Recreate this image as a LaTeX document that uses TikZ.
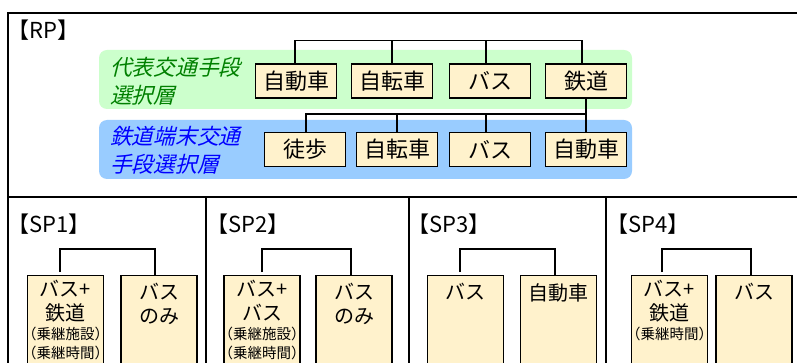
\documentclass[tikz,border=0pt]{standalone}
\usepackage{fontspec}
\setmainfont{Noto Sans CJK JP}
\newfontfamily\slantfont[FakeSlant=0.25]{Noto Sans CJK JP}
\definecolor{boxfill}{HTML}{FFF2CC}
\definecolor{greenband}{HTML}{CCFFCC}
\definecolor{blueband}{HTML}{99CCFF}
\definecolor{greentext}{HTML}{008000}
\definecolor{bluetext}{HTML}{0000FF}
\newcommand{\subline}[1]{{\fontsize{14.5}{16}\selectfont #1}}
\tikzset{
  frameline/.style={draw=black,line width=1.4pt},
  link/.style={draw=black,line width=1.4pt},
  band/.style={rounded corners=8pt,draw=none},
  modebox/.style={draw=black,fill=boxfill,line width=1.4pt,minimum width=81pt,minimum height=34pt,inner sep=0pt,font=\fontsize{22}{26}\selectfont},
  tallbox/.style={draw=black,fill=boxfill,line width=1.4pt,minimum width=76pt,minimum height=110pt,inner sep=0pt,anchor=north},
  tag/.style={anchor=west,inner sep=0pt,font=\fontsize{22}{26}\selectfont},
  layer/.style={anchor=north west,inner sep=0pt,align=left,font=\fontsize{21.7}{28}\selectfont\slantfont},
  boxtext/.style={anchor=north,inner sep=0pt,align=center,font=\fontsize{20}{24}\selectfont}
}
\begin{document}
\begin{tikzpicture}[x=1pt,y=-1pt]
\useasboundingbox (0,0) rectangle (797,363);
\clip (0,0) rectangle (797,363);
\fill[white] (0,0) rectangle (797,363);
% frame
\draw[frameline] (8,370) -- (8,13) -- (800,13);
\draw[frameline] (8,197) -- (800,197);
\draw[frameline] (206,197) -- (206,370);
\draw[frameline] (409,197) -- (409,370);
\draw[frameline] (606,197) -- (606,370);
\node[tag] (rp) at (7,30) {【RP】};
\node[tag] (sp1) at (7,224) {【SP1】};
\node[tag] (sp2) at (206,224) {【SP2】};
\node[tag] (sp3) at (407,224) {【SP3】};
\node[tag] (sp4) at (606,224) {【SP4】};
% bands
\fill[band,fill=greenband] (99,50) rectangle (632,109);
\fill[band,fill=blueband] (99,120) rectangle (632,179);
\node[layer,text=greentext] (l1) at (110,57) {代表交通手段\\選択層};
\node[layer,text=bluetext] (l2) at (110,126) {鉄道端末交通\\手段選択層};
% RP row 1
\node[modebox] (a1) at (296,81) {自動車};
\node[modebox] (a2) at (392,81) {自転車};
\node[modebox] (a3) at (490,81) {バス};
\node[modebox] (a4) at (586,81) {鉄道};
% RP row 2
\node[modebox] (b1) at (305,149.5) {徒歩};
\node[modebox] (b2) at (397,149.5) {自転車};
\node[modebox] (b3) at (490,149.5) {バス};
\node[modebox] (b4) at (586,149.5) {自動車};
\coordinate (t1) at (295,40.5);
\coordinate (t2) at (486,40.5);
\coordinate (t3) at (582,40.5);
\coordinate (u1) at (306,114);
\coordinate (u2) at (486,114);
\coordinate (u3) at (586,114);
\draw[link] (a1.north-|t1) |- (t1) -- (t3) -- (a4.north-|t3);
\draw[link] (a2.north) -- (a2.north|-t1);
\draw[link] (a3.north-|t2) -- (t2);
\draw[link] (a4.south) -- (b4.north);
\draw[link] (b1.north-|u1) |- (u1) -- (u3);
\draw[link] (b2.north) -- (b2.north|-u1);
\draw[link] (b3.north-|u2) -- (u2);
% SP boxes
\node[tallbox] (c1) at (65.5,275) {};
\node[tallbox] (c2) at (159,275) {};
\node[tallbox] (d1) at (262,275) {};
\node[tallbox] (d2) at (354,275) {};
\node[tallbox] (e1) at (465.5,275) {};
\node[tallbox] (e2) at (558.5,275) {};
\node[tallbox] (f1) at (669.5,275) {};
\node[tallbox] (f2) at (754,275) {};
\coordinate (v1) at (60,249);
\coordinate (v2) at (155,249);
\coordinate (v3) at (262,249);
\coordinate (v4) at (351,249);
\coordinate (v5) at (460,249);
\coordinate (v6) at (555,249);
\coordinate (v7) at (662,249);
\coordinate (v8) at (751,249);
\draw[link] ([yshift=3pt]c1.north-|v1) |- (v1) -- (v2) -- (c2.north-|v2);
\draw[link] ([yshift=3pt]d1.north-|v3) |- (v3) -- (v4) -- (d2.north-|v4);
\draw[link] ([yshift=3pt]e1.north-|v5) |- (v5) -- (v6) -- (e2.north-|v6);
\draw[link] ([yshift=3pt]f1.north-|v7) |- (v7) -- (v8) -- (f2.north-|v8);
% SP text
\node[boxtext] (c1t) at (65.5,280) {バス+\\[0pt]鉄道\\[-5pt]\subline{（乗継施設）}\\[-5pt]\subline{（乗継時間）}};
\node[boxtext] (c2t) at (159,283) {バス\\[0pt]のみ};
\node[boxtext] (d1t) at (262,280) {バス+\\[0pt]バス\\[-5pt]\subline{（乗継施設）}\\[-5pt]\subline{（乗継時間）}};
\node[boxtext] (d2t) at (354,283) {バス\\[0pt]のみ};
\node[boxtext] (e1t) at (465.5,283) {バス};
\node[boxtext] (e2t) at (558.5,283) {自動車};
\node[boxtext] (f1t) at (669.5,280) {バス+\\[0pt]鉄道\\[-5pt]\subline{（乗継時間）}};
\node[boxtext] (f2t) at (754,283) {バス};
\end{tikzpicture}
\end{document}
